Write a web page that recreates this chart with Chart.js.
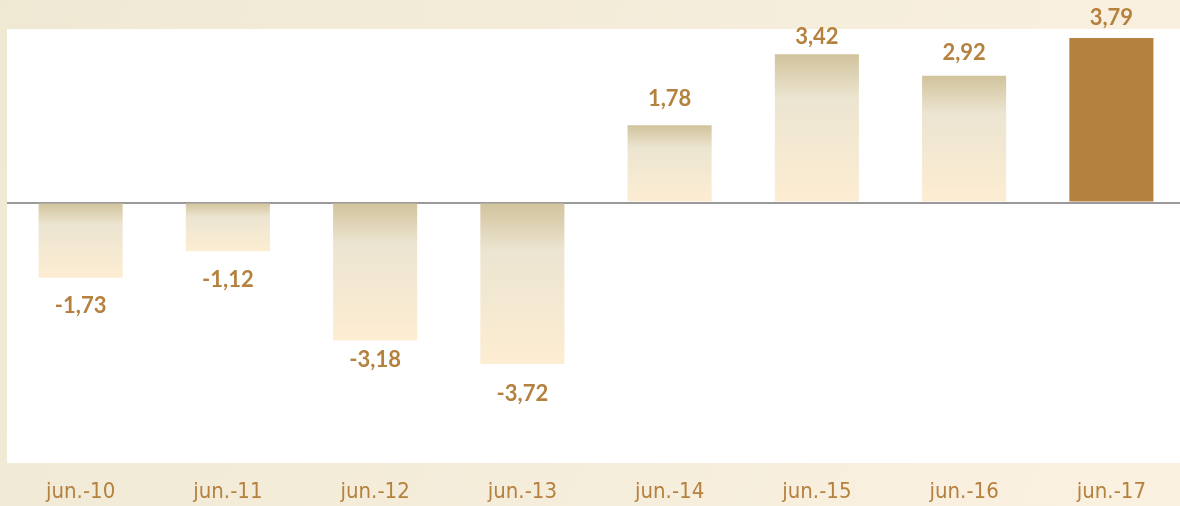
<!DOCTYPE html>
<html>
<head>
<meta charset="utf-8">
<script src="https://cdn.jsdelivr.net/npm/chart.js@4.4.1/dist/chart.umd.min.js"></script>
<style>
  html, body { margin: 0; padding: 0; overflow: hidden; background: #f0ead6; }
  canvas { display: block; }
</style>
</head>
<body>
<canvas id="returns-chart" width="1185" height="506"></canvas>
<script>
const categories = ["jun.-10", "jun.-11", "jun.-12", "jun.-13", "jun.-14", "jun.-15", "jun.-16", "jun.-17"];
const values = [-1.73, -1.12, -3.18, -3.72, 1.78, 3.42, 2.92, 3.79];
const yRange = { min: -6, max: 4 };

// distance (px) between bar end and its value label, as placed in the original
const labelGap = [28, 29, 19, 30, 26, 17, 23, 20];

const BROWN = "#b5813f";

function barFill(context) {
  const chart = context.chart;
  const i = context.dataIndex;
  if (i === values.length - 1) return BROWN;
  const { chartArea, scales } = chart;
  if (!chartArea) return "#efe6d0";
  const y0 = scales.y.getPixelForValue(0);
  const y1 = scales.y.getPixelForValue(values[i]);
  const top = Math.min(y0, y1);
  const bottom = Math.max(y0, y1);
  const g = chart.ctx.createLinearGradient(0, top, 0, bottom);
  g.addColorStop(0, "#d1c39c");
  g.addColorStop(0.3, "#ece5d1");
  g.addColorStop(1, "#fdedd2");
  return g;
}

const backdrop = {
  id: "backdrop",
  beforeDraw(chart) {
    const { ctx, width, height, chartArea } = chart;
    ctx.save();
    const g = ctx.createLinearGradient(0, 0, width, height);
    g.addColorStop(0, "#efe9d4");
    g.addColorStop(1, "#fbf1e1");
    ctx.fillStyle = g;
    ctx.fillRect(0, 0, width, height);
    ctx.fillStyle = "#ffffff";
    ctx.fillRect(chartArea.left, chartArea.top, chartArea.right - chartArea.left, chartArea.bottom - chartArea.top);
    ctx.restore();
  },
};

const valueLabels = {
  id: "valueLabels",
  afterDatasetsDraw(chart) {
    const { ctx } = chart;
    const meta = chart.getDatasetMeta(0);
    ctx.save();
    ctx.font = "bold 22px Lato, 'Open Sans', sans-serif";
    ctx.fillStyle = BROWN;
    ctx.textAlign = "center";
    ctx.textBaseline = "middle";
    meta.data.forEach((bar, i) => {
      const v = values[i];
      const y = v >= 0 ? bar.y - labelGap[i] : bar.y + labelGap[i];
      ctx.fillText(v.toFixed(2).replace(".", ","), bar.x, y);
    });
    ctx.restore();
  },
};

new Chart(document.getElementById("returns-chart"), {
  type: "bar",
  data: {
    labels: categories,
    datasets: [{
      data: values,
      backgroundColor: barFill,
      borderWidth: 0,
      barPercentage: 0.571,
      categoryPercentage: 1,
    }],
  },
  options: {
    responsive: false,
    animation: false,
    devicePixelRatio: 1,
    layout: { padding: { left: 7, top: 29, right: 0, bottom: 0 } },
    plugins: {
      legend: { display: false },
      tooltip: { enabled: false },
    },
    scales: {
      x: {
        grid: { display: false, drawTicks: false },
        border: { display: false },
        afterFit: (scale) => { scale.height = 43; },
        ticks: {
          color: BROWN,
          font: { family: "'Liberation Sans Narrow', 'DejaVu Sans Condensed', 'Arial Narrow', sans-serif", size: 22 },
          padding: 16,
          maxRotation: 0,
          autoSkip: false,
        },
      },
      y: {
        min: yRange.min,
        max: yRange.max,
        border: { display: false },
        grid: {
          drawTicks: false,
          lineWidth: 2,
          color: (c) => (c.tick && c.tick.value === 0 ? "#9a9a9a" : "transparent"),
        },
        ticks: { display: false, stepSize: 1 },
      },
    },
  },
  plugins: [backdrop, valueLabels],
});
</script>
</body>
</html>
